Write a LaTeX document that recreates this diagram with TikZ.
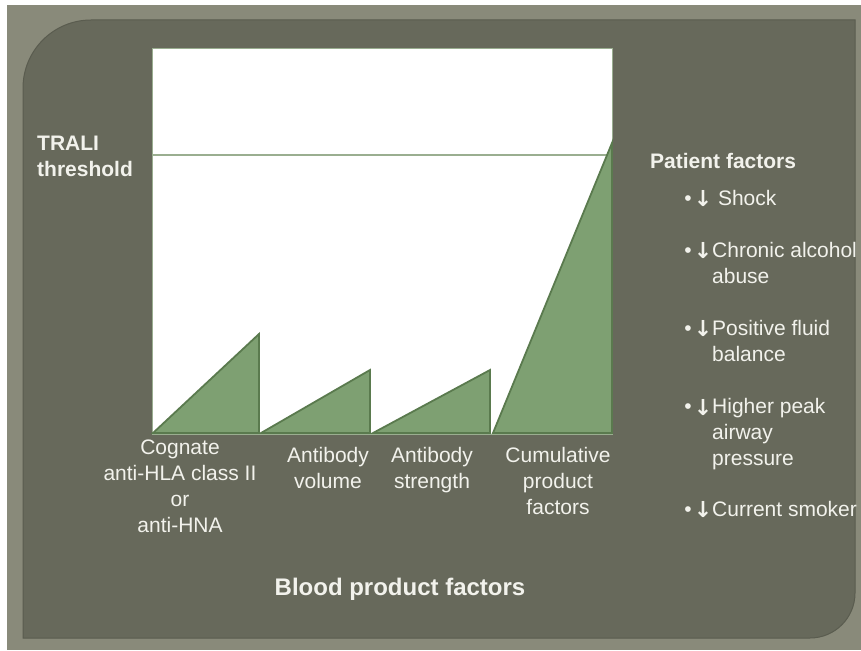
\documentclass[tikz,border=0pt]{standalone}
\usepackage{fontspec}
\setmainfont{Liberation Sans}
\newfontfamily\arrowfont{DejaVu Sans}
\usetikzlibrary{positioning}

\definecolor{frame}{HTML}{898A7A}
\definecolor{panel}{HTML}{67695B}
\definecolor{panelline}{HTML}{5A5C4F}
\definecolor{leaf}{HTML}{7EA072}
\definecolor{leafline}{HTML}{5A7A4E}
\definecolor{limit}{HTML}{9AAE90}
\definecolor{txt}{HTML}{F2F2EC}

\newcommand{\downmark}{\llap{•\hspace{2pt}\raisebox{-1.5pt}{\arrowfont\bfseries\fontsize{22}{22}\selectfont ↓}}}

\tikzset{
  lbl/.style={text=txt, inner sep=0pt, font=\fontsize{21}{25.7}\selectfont},
  head/.style={lbl, font=\bfseries\fontsize{21}{26}\selectfont},
  item/.style={lbl, anchor=base west, align=left},
  rise/.style={fill=leaf, draw=leafline, line width=1.8pt, line join=miter}
}

\begin{document}
\begin{tikzpicture}[x=1pt,y=-1pt]
\useasboundingbox (0,0) rectangle (861,650);
\fill[white] (0,0) rectangle (861,650);
\fill[frame] (7,5) rectangle (861,650); % outer frame
\filldraw[fill=panel, draw=panelline, line width=1pt]
  (23,638) -- (23,120) [rounded corners=68] -- (23,20) -- (300,20)
  [sharp corners] -- (855,20) -- (855,500) [rounded corners=45] -- (855,638) -- (700,638)
  [sharp corners] -- cycle;

% plot area
\filldraw[fill=white, draw=limit, line width=0.8pt] (152,48) rectangle (612,434);
\draw[limit, line width=1.2pt] (152,155) -- (612,155); % threshold

\filldraw[rise] (153,433) -- (259,334) -- (259,433) -- cycle;
\filldraw[rise] (261,433) -- (370,370) -- (370,433) -- cycle;
\filldraw[rise] (373,433) -- (490,370) -- (490,433) -- cycle;
\filldraw[rise] (493,433) -- (612,143) -- (612,433) -- cycle; % cumulative

% left label (base = last line)
\node[head, anchor=base west, align=left] (trali) at (37,176) {TRALI\\threshold};

% labels under the bars
\node[lbl, anchor=base, align=center] (cognate) at (180,532)
  {Cognate\\anti-HLA class II\\or\\anti-HNA};
\node[lbl, anchor=base, align=center] (volume) at (328,488) {Antibody\\volume};
\node[lbl, anchor=base, align=center] (strength) at (432,488) {Antibody\\strength};
\node[lbl, anchor=base, align=center] (cumul) at (558,514) {Cumulative\\product\\factors};

% patient side
\node[head, anchor=base west] (patient) at (650,168) {Patient factors};
\node[item] (shock) at (712,205) {\downmark\ Shock};
\node[item] (alcohol) at (712,283) {\downmark Chronic alcohol\\abuse};
\node[item] (fluid) at (712,361) {\downmark Positive fluid\\balance};
\node[item] (peak) at (712,465) {\downmark Higher peak\\airway\\pressure};
\node[item] (smoker) at (712,516) {\downmark Current smoker};

\node[lbl, anchor=base, font=\bfseries\fontsize{24}{28}\selectfont] (blood) at (400,595)
  {Blood product factors};
\end{tikzpicture}
\end{document}
